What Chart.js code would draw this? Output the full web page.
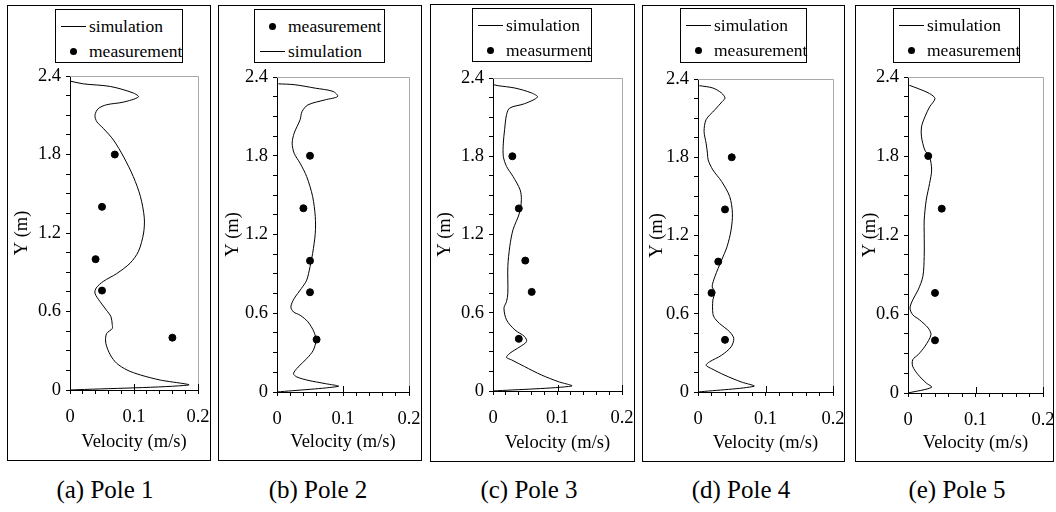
<!DOCTYPE html>
<html lang="en">
<head>
<meta charset="UTF-8" />
<title>Velocity profiles, Poles 1-5</title>
<script src="https://cdn.jsdelivr.net/npm/chart.js"></script>
<style>
  body {
    margin: 0;
    background: #fff;
    width: 1056px;
    height: 512px;
    position: relative;
    overflow: hidden;
    font-family: 'Liberation Serif', 'Times New Roman', serif;
    color: #000;
  }
  .panel { position: absolute; border: 1px solid #000; box-sizing: border-box; }
  .panel canvas { position: absolute; left: 0; top: 0; }
  .legend { position: absolute; border: 1px solid #000; box-sizing: border-box; background: #fff; font-size: 17.5px; z-index: 2; }
  .legend .row { position: absolute; left: 0; right: 0; height: 20px; line-height: 20px; white-space: nowrap; }
  .legend .line { position: absolute; left: 5px; width: 25px; top: 10px; border-top: 1px solid #000; }
  .legend .dot { position: absolute; left: 14px; top: 7px; width: 7px; height: 7px; border-radius: 50%; background: #000; }
  .legend .txt { position: absolute; left: 33px; top: 0; }
  .caption { position: absolute; top: 476px; font-size: 25px; line-height: 28px; transform: translateX(-50%); white-space: nowrap; }
</style>
</head>
<body>

<script>
  // ---- data ----
  const xMajor = [0, 0.1, 0.2];
  const xTickLabels = ['0', '0.1', '0.2'];
  const yMajor = [0, 0.6, 1.2, 1.8, 2.4];
  const yTickLabels = ['0', '0.6', '1.2', '1.8', '2.4'];

  // Pole 1
  const pole1SimVel = [0, 0.185, 0.141, 0.11, 0.089, 0.073, 0.063, 0.056, 0.057, 0.066, 0.066, 0.064, 0.057, 0.047, 0.039, 0.041, 0.052, 0.073, 0.094, 0.107, 0.115, 0.116, 0.11, 0.099, 0.084, 0.068, 0.052, 0.042, 0.039, 0.044, 0.057, 0.083, 0.107, 0.099, 0.063, 0.021, 0.001];
  const pole1SimY   = [0, 0.038, 0.076, 0.115, 0.153, 0.204, 0.268, 0.357, 0.43, 0.47, 0.5, 0.56, 0.61, 0.675, 0.74, 0.78, 0.83, 0.89, 0.97, 1.06, 1.2, 1.32, 1.48, 1.63, 1.78, 1.91, 2.0, 2.05, 2.1, 2.15, 2.18, 2.2, 2.24, 2.27, 2.32, 2.34, 2.36];
  const pole1MeasVel = [0.16, 0.05, 0.04, 0.05, 0.07];
  const pole1MeasY   = [0.4, 0.76, 1.0, 1.4, 1.8];

  // Pole 2
  const pole2SimVel = [0, 0.093, 0.073, 0.047, 0.03, 0.025, 0.032, 0.045, 0.055, 0.059, 0.056, 0.047, 0.035, 0.025, 0.021, 0.026, 0.037, 0.045, 0.05, 0.054, 0.058, 0.058, 0.054, 0.045, 0.035, 0.026, 0.023, 0.026, 0.035, 0.038, 0.047, 0.073, 0.092, 0.085, 0.058, 0.027, 0.002];
  const pole2SimY   = [0, 0.043, 0.064, 0.089, 0.115, 0.14, 0.19, 0.254, 0.318, 0.394, 0.458, 0.534, 0.585, 0.61, 0.649, 0.712, 0.789, 0.852, 0.954, 1.056, 1.209, 1.336, 1.489, 1.641, 1.743, 1.819, 1.896, 1.972, 2.074, 2.137, 2.188, 2.226, 2.252, 2.29, 2.315, 2.341, 2.348];
  const pole2MeasVel = [0.06, 0.05, 0.05, 0.04, 0.05];
  const pole2MeasY   = [0.4, 0.76, 1.0, 1.4, 1.8];

  // Pole 3
  const pole3SimVel = [0, 0.122, 0.101, 0.075, 0.049, 0.029, 0.021, 0.026, 0.042, 0.052, 0.049, 0.034, 0.021, 0.017, 0.021, 0.023, 0.023, 0.026, 0.031, 0.041, 0.044, 0.042, 0.031, 0.021, 0.016, 0.016, 0.018, 0.021, 0.026, 0.049, 0.069, 0.06, 0.034, 0.008, 0.001];
  const pole3SimY   = [0, 0.038, 0.072, 0.123, 0.187, 0.238, 0.258, 0.289, 0.34, 0.379, 0.417, 0.468, 0.545, 0.635, 0.686, 0.75, 0.954, 1.108, 1.236, 1.364, 1.466, 1.543, 1.645, 1.722, 1.799, 1.901, 2.004, 2.119, 2.17, 2.203, 2.254, 2.285, 2.323, 2.341, 2.349];
  const pole3MeasVel = [0.04, 0.06, 0.05, 0.04, 0.03];
  const pole3MeasY   = [0.4, 0.76, 1.0, 1.4, 1.8];

  // Pole 4
  const pole4SimVel = [0, 0.083, 0.064, 0.04, 0.02, 0.012, 0.017, 0.035, 0.049, 0.053, 0.047, 0.032, 0.025, 0.022, 0.022, 0.025, 0.021, 0.025, 0.035, 0.043, 0.049, 0.051, 0.047, 0.035, 0.022, 0.015, 0.014, 0.012, 0.009, 0.012, 0.025, 0.036, 0.04, 0.035, 0.022, 0.002];
  const pole4SimY   = [0, 0.044, 0.077, 0.128, 0.179, 0.205, 0.231, 0.282, 0.346, 0.41, 0.461, 0.525, 0.564, 0.602, 0.704, 0.768, 0.807, 0.884, 1.012, 1.114, 1.242, 1.37, 1.498, 1.614, 1.703, 1.78, 1.831, 1.908, 1.998, 2.088, 2.164, 2.228, 2.254, 2.292, 2.331, 2.349];
  const pole4MeasVel = [0.04, 0.02, 0.03, 0.04, 0.05];
  const pole4MeasY   = [0.4, 0.76, 1.0, 1.4, 1.8];

  // Pole 5
  const pole5SimVel = [0, 0.035, 0.027, 0.015, 0.007, 0.007, 0.015, 0.025, 0.034, 0.03, 0.017, 0.007, 0.003, 0.007, 0.015, 0.022, 0.024, 0.024, 0.024, 0.027, 0.032, 0.035, 0.032, 0.025, 0.02, 0.02, 0.025, 0.032, 0.04, 0.032, 0.015, 0.002];
  const pole5SimY   = [0, 0.043, 0.076, 0.139, 0.202, 0.253, 0.291, 0.354, 0.442, 0.493, 0.556, 0.594, 0.644, 0.707, 0.783, 0.884, 1.036, 1.213, 1.314, 1.465, 1.592, 1.693, 1.794, 1.844, 1.945, 2.021, 2.097, 2.173, 2.236, 2.274, 2.312, 2.337];
  const pole5MeasVel = [0.04, 0.04, 0.05, 0.03];
  const pole5MeasY   = [0.4, 0.76, 1.4, 1.8];

  const captions = ['(a) Pole 1', '(b) Pole 2', '(c) Pole 3', '(d) Pole 4', '(e) Pole 5'];
  const measLabels = ['measurement', 'measurement', 'measurment', 'measurement', 'measurement'];
  const legendOrders = [['sim', 'meas'], ['meas', 'sim'], ['sim', 'meas'], ['sim', 'meas'], ['sim', 'meas']];

  const simVel = [pole1SimVel, pole2SimVel, pole3SimVel, pole4SimVel, pole5SimVel];
  const simY = [pole1SimY, pole2SimY, pole3SimY, pole4SimY, pole5SimY];
  const measVel = [pole1MeasVel, pole2MeasVel, pole3MeasVel, pole4MeasVel, pole5MeasVel];
  const measY = [pole1MeasY, pole2MeasY, pole3MeasY, pole4MeasY, pole5MeasY];

  // ---- layout (page pixels) ----
  const boxes = [
    { l: 7,   t: 5, r: 210,  b: 460, plot: [70, 76, 198, 390],   leg: [55, 9, 183, 63],   cap: 105 },
    { l: 218, t: 5, r: 421,  b: 460, plot: [277, 77, 409, 392],  leg: [254, 9, 385, 63],  cap: 318 },
    { l: 430, t: 4, r: 634,  b: 461, plot: [493, 78, 622, 391],  leg: [472, 8, 592, 62],  cap: 529 },
    { l: 642, t: 5, r: 844,  b: 461, plot: [698, 79, 833, 392],  leg: [680, 8, 807, 63],  cap: 741 },
    { l: 855, t: 5, r: 1053, b: 461, plot: [908, 77, 1043, 393], leg: [893, 8, 1020, 63], cap: 957 }
  ];

  const FONT = "'Liberation Serif', 'Times New Roman', serif";
  const near = (v, list) => list.findIndex(m => Math.abs(m - v) < 1e-6);
  const zip = (xs, ys) => xs.map((x, k) => ({ x: x, y: ys[k] }));

  // grey top/right frame + inner half of the major x ticks
  const framePlugin = {
    id: 'frame',
    beforeDatasetsDraw(chart) {
      const { ctx, chartArea: a } = chart;
      ctx.save();
      ctx.lineWidth = 1;
      ctx.strokeStyle = '#a8a8a8';
      ctx.beginPath();
      ctx.moveTo(a.left, Math.round(a.top) + 0.5);
      ctx.lineTo(Math.round(a.right) + 0.5, Math.round(a.top) + 0.5);
      ctx.lineTo(Math.round(a.right) + 0.5, a.bottom);
      ctx.stroke();
      ctx.strokeStyle = '#000';
      ctx.beginPath();
      xMajor.forEach(v => {
        const px = Math.round(chart.scales.x.getPixelForValue(v)) + 0.5;
        ctx.moveTo(px, a.bottom);
        ctx.lineTo(px, a.bottom - 6);
      });
      ctx.stroke();
      ctx.restore();
    }
  };

  boxes.forEach((bx, i) => {
    const W = bx.r - bx.l - 1;
    const H = bx.b - bx.t - 1;
    const ox = bx.l + 1, oy = bx.t + 1;
    const pl = bx.plot[0] - ox, pt = bx.plot[1] - oy, pr = bx.plot[2] - ox, pb = bx.plot[3] - oy;

    const panel = document.createElement('div');
    panel.className = 'panel';
    Object.assign(panel.style, { left: bx.l + 'px', top: bx.t + 'px', width: (bx.r - bx.l + 1) + 'px', height: (bx.b - bx.t + 1) + 'px' });
    const canvas = document.createElement('canvas');
    canvas.width = W; canvas.height = H;
    canvas.style.width = W + 'px'; canvas.style.height = H + 'px';
    panel.appendChild(canvas);
    document.body.appendChild(panel);

    // legend box
    const leg = document.createElement('div');
    leg.className = 'legend';
    Object.assign(leg.style, { left: bx.leg[0] + 'px', top: bx.leg[1] + 'px', width: (bx.leg[2] - bx.leg[0]) + 'px', height: (bx.leg[3] - bx.leg[1]) + 'px' });
    legendOrders[i].forEach((kind, r) => {
      const row = document.createElement('div');
      row.className = 'row';
      row.style.top = (r === 0 ? 6 : 31) + 'px';
      const sym = document.createElement('span');
      sym.className = kind === 'sim' ? 'line' : 'dot';
      const txt = document.createElement('span');
      txt.className = 'txt';
      txt.textContent = kind === 'sim' ? 'simulation' : measLabels[i];
      row.appendChild(sym); row.appendChild(txt);
      leg.appendChild(row);
    });
    document.body.appendChild(leg);

    const cap = document.createElement('div');
    cap.className = 'caption';
    cap.style.left = bx.cap + 'px';
    cap.textContent = captions[i];
    document.body.appendChild(cap);

    new Chart(canvas, {
      type: 'scatter',
      data: {
        datasets: [
          {
            label: 'simulation',
            data: zip(simVel[i], simY[i]),
            showLine: true,
            pointRadius: 0,
            borderColor: '#000',
            borderWidth: 1,
            tension: 0.3,
            order: 2
          },
          {
            label: measLabels[i],
            data: zip(measVel[i], measY[i]),
            pointRadius: 3.5,
            backgroundColor: '#000',
            borderColor: '#000',
            order: 1
          }
        ]
      },
      options: {
        responsive: false,
        animation: false,
        layout: { padding: { left: 0, top: pt, right: W - pr, bottom: 0 } },
        plugins: { legend: { display: false }, tooltip: { enabled: false } },
        scales: {
          x: {
            type: 'linear',
            min: 0,
            max: 0.2,
            border: { color: '#000', width: 1 },
            grid: { drawOnChartArea: false, tickLength: 4, tickColor: '#000' },
            ticks: {
              stepSize: 0.02,
              autoSkip: false,
              maxRotation: 0,
              color: '#000',
              padding: 12,
              font: { family: FONT, size: 18.5 },
              callback: v => { const k = near(v, xMajor); return k < 0 ? '' : xTickLabels[k]; }
            },
            title: { display: true, text: 'Velocity (m/s)', color: '#000', font: { family: FONT, size: 18.5 }, padding: { top: 0, bottom: 7 } },
            afterFit: s => { s.height = H - pb; s.paddingLeft = 0; s.paddingRight = 0; }
          },
          y: {
            type: 'linear',
            min: 0,
            max: 2.4,
            border: { color: '#000', width: 1 },
            grid: { drawOnChartArea: false, tickLength: 4, tickColor: '#000' },
            ticks: {
              stepSize: 0.15,
              autoSkip: false,
              color: '#000',
              padding: 5,
              font: { family: FONT, size: 18.5 },
              callback: v => { const k = near(v, yMajor); return k < 0 ? '' : yTickLabels[k]; }
            },
            title: { display: true, text: 'Y (m)', color: '#000', font: { family: FONT, size: 18.5 }, padding: { top: 3, bottom: 0 } },
            afterFit: s => { s.width = pl; s.paddingTop = 0; s.paddingBottom = 0; }
          }
        }
      },
      plugins: [framePlugin]
    });
  });
</script>
</body>
</html>
